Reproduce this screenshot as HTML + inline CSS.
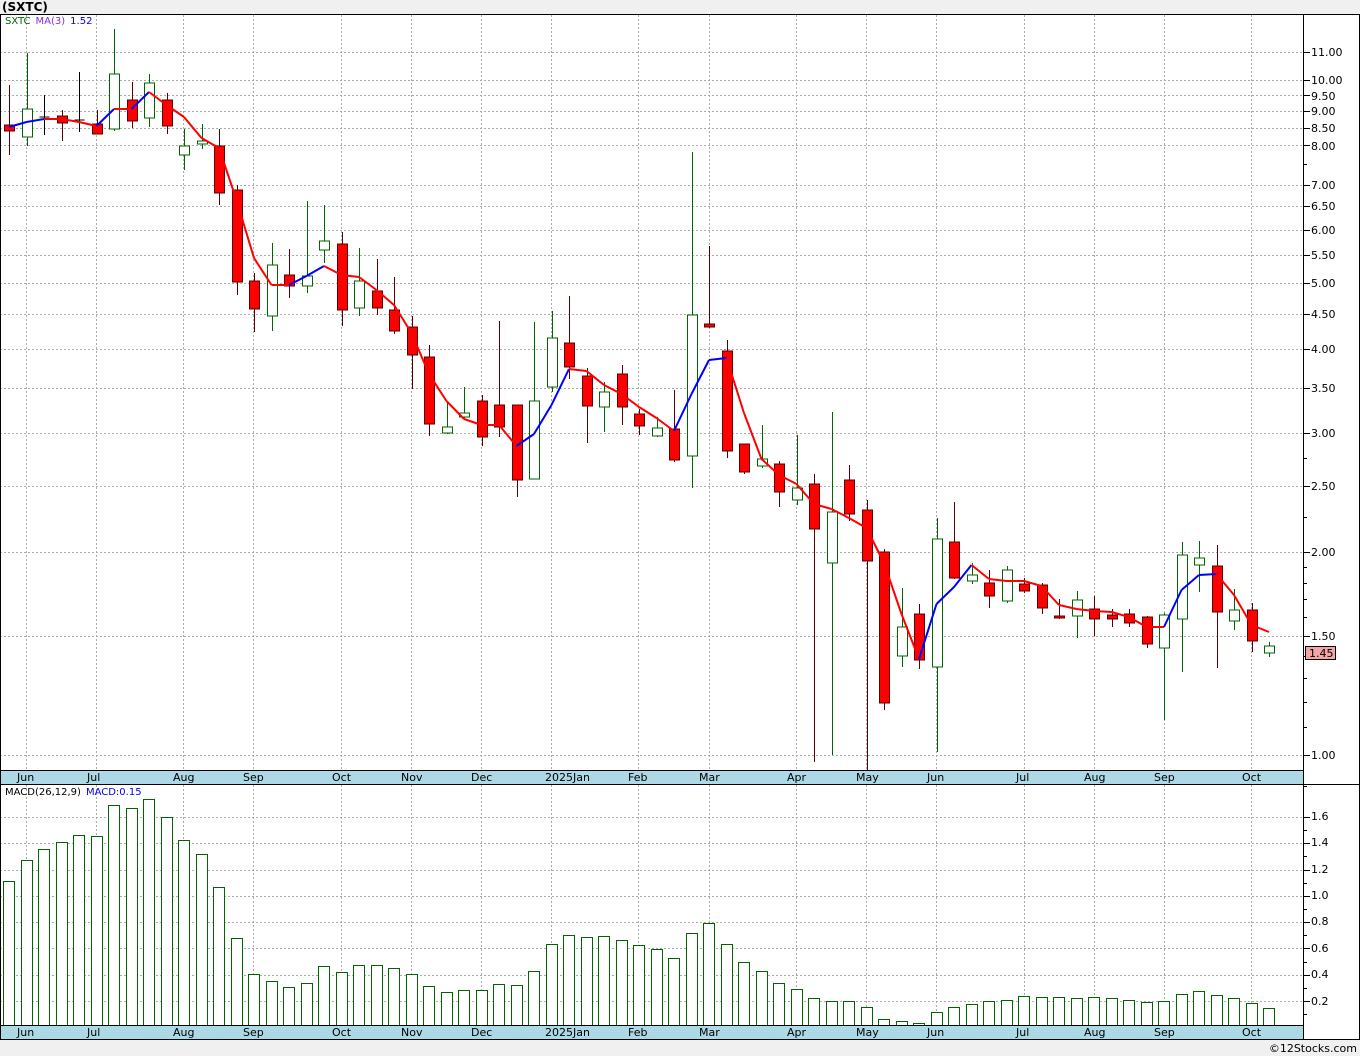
<!DOCTYPE html>
<html><head><meta charset="utf-8"><style>
body{margin:0;background:#f0f0f0;font-family:"Liberation Sans","DejaVu Sans",sans-serif}
#c{position:absolute;left:0;top:0}
</style></head><body>
<svg id="c" width="1360" height="1056" xmlns="http://www.w3.org/2000/svg" font-family="DejaVu Sans, Liberation Sans, sans-serif">
<rect x="0" y="0" width="1360" height="1056" fill="#f0f0f0"/>
<rect x="0" y="14" width="1360" height="1026" fill="#fff"/>
<text x="2" y="11" font-size="12" font-weight="bold" fill="#000">(SXTC)</text>
<g id="grid"></g>
<g id="candles"></g>
<g id="ma"></g>
<g id="macd"></g>
<rect x="0" y="770" width="1303" height="14" fill="#add8e6"/>
<rect x="0" y="1025" width="1303" height="14" fill="#add8e6"/>
<line x1="0" y1="770.5" x2="1303" y2="770.5" stroke="#000"/>
<line x1="0" y1="784.5" x2="1360" y2="784.5" stroke="#000"/>
<line x1="0" y1="1025.5" x2="1303" y2="1025.5" stroke="#000"/>
<line x1="0" y1="1039.5" x2="1360" y2="1039.5" stroke="#000"/>
<line x1="1303.5" y1="14" x2="1303.5" y2="1040" stroke="#000"/>
<line x1="0" y1="14.5" x2="1360" y2="14.5" stroke="#000"/>
<line x1="0.5" y1="14" x2="0.5" y2="1040" stroke="#000"/>
<line x1="1359.5" y1="14" x2="1359.5" y2="1040" stroke="#000"/>
<g id="ticks"></g>
<g font-size="11" fill="#000">
<text x="17" y="781">Jun</text><text x="87" y="781">Jul</text><text x="173" y="781">Aug</text><text x="243" y="781">Sep</text><text x="332" y="781">Oct</text><text x="401" y="781">Nov</text><text x="471" y="781">Dec</text><text x="545" y="781">2025Jan</text><text x="628" y="781">Feb</text><text x="699" y="781">Mar</text><text x="787" y="781">Apr</text><text x="856" y="781">May</text><text x="927" y="781">Jun</text><text x="1016" y="781">Jul</text><text x="1084" y="781">Aug</text><text x="1154" y="781">Sep</text><text x="1242" y="781">Oct</text>
<text x="17" y="1036">Jun</text><text x="87" y="1036">Jul</text><text x="173" y="1036">Aug</text><text x="243" y="1036">Sep</text><text x="332" y="1036">Oct</text><text x="401" y="1036">Nov</text><text x="471" y="1036">Dec</text><text x="545" y="1036">2025Jan</text><text x="628" y="1036">Feb</text><text x="699" y="1036">Mar</text><text x="787" y="1036">Apr</text><text x="856" y="1036">May</text><text x="927" y="1036">Jun</text><text x="1016" y="1036">Jul</text><text x="1084" y="1036">Aug</text><text x="1154" y="1036">Sep</text><text x="1242" y="1036">Oct</text>
</g>
<g font-size="11" fill="#000">
<text x="1311" y="56">11.00</text><text x="1311" y="84">10.00</text><text x="1311" y="100">9.50</text><text x="1311" y="115">9.00</text><text x="1311" y="132">8.50</text><text x="1311" y="150">8.00</text><text x="1311" y="189">7.00</text><text x="1311" y="210">6.50</text><text x="1311" y="234">6.00</text><text x="1311" y="259">5.50</text><text x="1311" y="287">5.00</text><text x="1311" y="318">4.50</text><text x="1311" y="353">4.00</text><text x="1311" y="392">3.50</text><text x="1311" y="437">3.00</text><text x="1311" y="490">2.50</text><text x="1311" y="556">2.00</text><text x="1311" y="640">1.50</text><text x="1311" y="759">1.00</text>
<text x="1311" y="820">1.6</text><text x="1311" y="846">1.4</text><text x="1311" y="873">1.2</text><text x="1311" y="899">1.0</text><text x="1311" y="925">0.8</text><text x="1311" y="952">0.6</text><text x="1311" y="978">0.4</text><text x="1311" y="1005">0.2</text>
</g>
<rect x="1305.5" y="646.5" width="30" height="13" fill="#f4a6a6" stroke="#000"/>
<text x="1309" y="657" font-size="11">1.45</text>
<text x="5" y="24" font-size="10"><tspan fill="#006400">SXTC</tspan><tspan dx="5" fill="#8a2be2">MA(3)</tspan><tspan dx="5" fill="#0000ff">1.52</tspan></text>
<text x="5" y="795" font-size="10"><tspan fill="#000">MACD(26,12,9)</tspan><tspan dx="5" fill="#0000ff">MACD:0.15</tspan></text>
<text x="1357" y="1052" font-size="11" text-anchor="end" fill="#000">©12Stocks.com</text>
</svg>
<script>
const NS="http://www.w3.org/2000/svg";
function el(p,t,a){const e=document.createElementNS(NS,t);for(const k in a)e.setAttribute(k,a[k]);document.getElementById(p).appendChild(e);return e;}
const months=[26,96,183,253,341,411,481,551,638,709,796,866,936,1024,1094,1164,1251];
const prices=[11,10,9.5,9,8.5,8,7,6.5,6,5.5,5,4.5,4,3.5,3,2.5,2,1.5,1];
const py=p=>755-675*Math.log10(p);
months.forEach(x=>{el("grid","line",{x1:x+.5,y1:15,x2:x+.5,y2:770,stroke:"#aaa","stroke-dasharray":"2,2"});el("grid","line",{x1:x+.5,y1:785,x2:x+.5,y2:1025,stroke:"#aaa","stroke-dasharray":"2,2"});});
prices.forEach(p=>{const y=Math.round(py(p))+.5;el("grid","line",{x1:0,y1:y,x2:1303,y2:y,stroke:"#aaa","stroke-dasharray":"2,2"});el("ticks","line",{x1:1303,y1:y,x2:1310,y2:y,stroke:"#000"});});
[7.5,1.4,1.3,1.2,1.1,0.9,1.9,1.8,1.7,1.6,2.25,2.75].forEach(p=>{const y=Math.round(py(p))+.5;el("ticks","line",{x1:1303,y1:y,x2:1307,y2:y,stroke:"#000"});});
[1.6,1.4,1.2,1.0,0.8,0.6,0.4,0.2].forEach(v=>{const y=Math.round(1027.3-131.5*v)+.5;el("grid","line",{x1:0,y1:y,x2:1303,y2:y,stroke:"#aaa","stroke-dasharray":"2,2"});el("ticks","line",{x1:1303,y1:y,x2:1310,y2:y,stroke:"#000"});});
[1.5,1.3,1.1,0.9,0.7,0.5,0.3,0.1].forEach(v=>{const y=Math.round(1027.3-131.5*v)+.5;el("ticks","line",{x1:1303,y1:y,x2:1307,y2:y,stroke:"#000"});});
// t: r=red, w=white(up), k=black doji ; bodyTop, bodyBot, wickTop, wickBot
const C=[
["r",125,131,85,155],["w",109,137,53,146],["k",117,119,95,135],["r",116,123,110,141],["k",120,122,72,132],["r",124,134,110,134],
["w",74,129,29,131],["r",100,121,82,128],["w",83,118,74,127],["r",100,126,93,134],["w",146,155,129,170],["w",141,144,124,149],
["r",146,193,129,205],["r",190,282,185,295],["r",281,309,273,332],["w",265,316,243,331],["r",275,286,249,298],["w",276,286,201,293],
["w",241,250,205,263],["r",244,310,232,326],["w",281,308,248,316],["r",291,308,259,315],["r",310,331,277,334],["r",327,355,316,389],
["r",357,424,345,436],["w",427,433,402,434],["w",413,417,387,418],["r",401,437,395,446],["r",405,427,321,437],["r",405,480,405,497],
["w",401,479,322,479],["w",338,387,311,392],["r",343,367,296,379],["r",376,406,368,443],["w",392,407,382,432],["r",374,407,365,425],
["r",414,426,409,435],["w",428,436,417,437],["r",429,460,390,462],["w",315,456,152,488],["r",324,327,246,328],["r",351,451,340,458],
["r",444,472,444,474],["w",459,466,425,468],["r",464,492,461,507],["w",488,500,435,505],["r",484,529,474,762],["w",512,563,412,755],
["r",480,514,465,521],["r",510,561,500,770],["r",552,703,549,710],["w",627,656,588,667],["r",614,660,604,669],["w",539,667,518,752],
["r",542,578,502,579],["w",575,581,563,584],["r",583,596,570,608],["w",570,601,566,603],["r",584,591,578,593],["r",585,608,583,614],
["r",616,618,599,619],["w",600,616,591,638],["r",609,619,596,636],["r",615,619,609,627],["r",614,623,609,627],["r",617,644,616,648],
["w",615,648,613,720],["w",555,619,542,672],["w",558,565,541,592],["r",566,612,545,668],["w",610,621,589,630],["r",610,641,603,652],["w",646,653,642,657]];
const X=i=>9+i*17.5;
C.forEach((c,i)=>{const x=Math.round(X(i))+.5;const col=c[0]=="r"?"#5a0000":c[0]=="w"?"#006400":"#000";
el("candles","line",{x1:x,y1:c[3],x2:x,y2:c[4],stroke:col});
if(c[0]=="k"){el("candles","line",{x1:x-5,y1:c[1],x2:x+5,y2:c[1],stroke:"#000"});return;}
el("candles","rect",{x:x-5,y:c[1],width:10,height:Math.max(2,c[2]-c[1]),fill:c[0]=="r"?"#ff0000":"#fff",stroke:c[0]=="r"?"#5a0000":"#006400"});});
const M=[127,122,119,119,122,126,109,109,92,105,117,138,148,200,258,285,285,276,266,275,277,290,305,333,374,401,419,425,425,446,434,405,369,371,385,394,407,418,431,394,360,358,413,459,475,484,504,509,518,528,563,614,659,604,587,565,579,581,581,586,605,609,611,612,617,627,627,590,575,574,595,625,632];
for(let i=0;i<M.length-1;i++){el("ma","line",{x1:X(i),y1:M[i],x2:X(i+1),y2:M[i+1],stroke:M[i+1]<M[i]?"#0000ff":"#ff0000","stroke-width":2});}
const B=[881,860,849,842,835,836,805,808,799,817,840,854,887,938,974,981,987,983,966,972,965,965,968,974,986,992,990,990,984,985,971,944,935,937,936,940,945,949,958,933,923,944,962,971,983,989,998,1001,1001,1007,1019,1021,1023,1012,1007,1004,1001,1000,996,997,997,998,997,998,1000,1002,1001,994,991,995,998,1003,1008];
B.forEach((t,i)=>{const x=Math.round(X(i));el("macd","rect",{x:x-5.5,y:t+.5,width:11,height:1025-t,fill:"#fff",stroke:"#006400"});});
</script>
</body></html>
